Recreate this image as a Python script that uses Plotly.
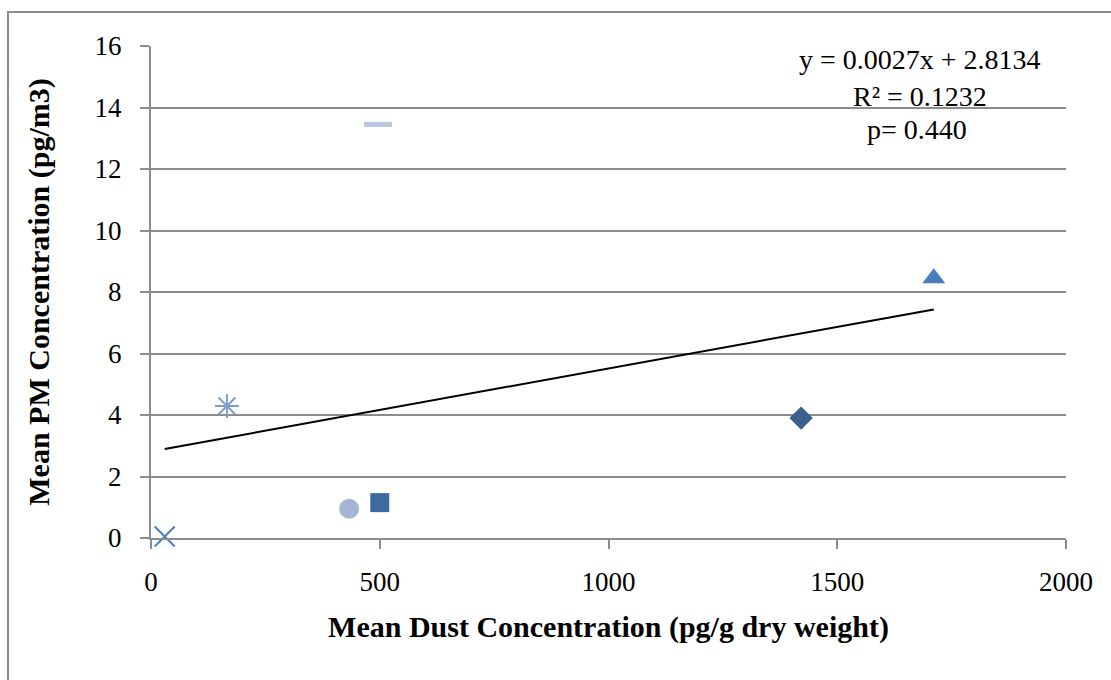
import plotly.graph_objects as go

# Data
dust = [30, 166, 433, 500, 496, 1421, 1711]
pm = [0.05, 4.29, 0.95, 1.15, 13.45, 3.9, 8.45]
symbols = ["x-thin-open", "asterisk-open", "circle", "square", "line-ew-open", "diamond", "triangle-up"]
colors = ["#4A7EBB", "#7F9FD0", "#A5B5D6", "#3E6A9E", "#B9C7E0", "#3B5F8F", "#4A7EBB"]
sizes = [20, 20, 20, 19, 20, 18, 20]
line_widths = [2, 2, 0, 0, 5, 0, 0]

slope = 0.0027
intercept = 2.8134
eq_text = "y = 0.0027x + 2.8134"
r2_text = "R² = 0.1232"
p_text = "p= 0.440"

x_ticks = [0, 500, 1000, 1500, 2000]
y_ticks = [0, 2, 4, 6, 8, 10, 12, 14, 16]

FONT = "Liberation Serif"
GRID = "#8c8c8c"

fig = go.Figure()

# Trend line
x_fit = [min(dust), max(dust)]
y_fit = [slope * v + intercept for v in x_fit]
fig.add_trace(go.Scatter(x=x_fit, y=y_fit, mode="lines",
                         line=dict(color="black", width=2), showlegend=False,
                         hoverinfo="skip"))

for i in range(len(dust)):
    open_sym = symbols[i].endswith("-open")
    fig.add_trace(go.Scatter(
        x=[dust[i]], y=[pm[i]], mode="markers", showlegend=False,
        marker=dict(symbol=symbols[i], size=sizes[i], color=colors[i],
                    line=dict(color=colors[i], width=line_widths[i] if open_sym else 0)),
        cliponaxis=False,
    ))

fig.update_layout(
    width=1111, height=680,
    margin=dict(l=151, r=45, t=46, b=142),
    paper_bgcolor="white", plot_bgcolor="white",
    font=dict(family=FONT, size=27, color="black"),
    xaxis=dict(range=[0, 2000], tickvals=x_ticks, showgrid=False, zeroline=False,
               showline=True, linecolor=GRID, linewidth=2,
               ticks="outside", ticklen=9, tickcolor=GRID, tickwidth=2,
               tickfont=dict(family=FONT, size=27), ticklabelstandoff=10,
               title=dict(text="<b>Mean Dust Concentration (pg/g dry weight)</b>",
                          font=dict(family=FONT, size=30), standoff=20)),
    yaxis=dict(range=[0, 16], tickvals=y_ticks, showgrid=True, gridcolor=GRID,
               gridwidth=2, zeroline=False,
               showline=True, linecolor=GRID, linewidth=2,
               ticks="outside", ticklen=9, tickcolor=GRID, tickwidth=2,
               tickfont=dict(family=FONT, size=27), ticklabelstandoff=13,
               title=dict(text="<b>Mean PM Concentration (pg/m3)</b>",
                          font=dict(family=FONT, size=30), standoff=36)),
    shapes=[dict(type="rect", xref="paper", yref="paper",
                 x0=(8 - 151) / 915, x1=1.08, y0=-0.35, y1=(538 - 12) / 492,
                 line=dict(color=GRID, width=2), layer="below")],
    annotations=[
        dict(text=eq_text, xref="paper", yref="paper", x=(920 - 151) / 915, y=(538 - 60) / 492,
             showarrow=False, font=dict(family=FONT, size=28), xanchor="center", yanchor="middle"),
        dict(text=r2_text, xref="paper", yref="paper", x=(920 - 151) / 915, y=(538 - 96) / 492,
             showarrow=False, font=dict(family=FONT, size=28), xanchor="center", yanchor="middle"),
        dict(text=p_text, xref="paper", yref="paper", x=(917 - 151) / 915, y=(538 - 129) / 492,
             showarrow=False, font=dict(family=FONT, size=28), xanchor="center", yanchor="middle"),
    ],
)

fig.write_html("out.html")
